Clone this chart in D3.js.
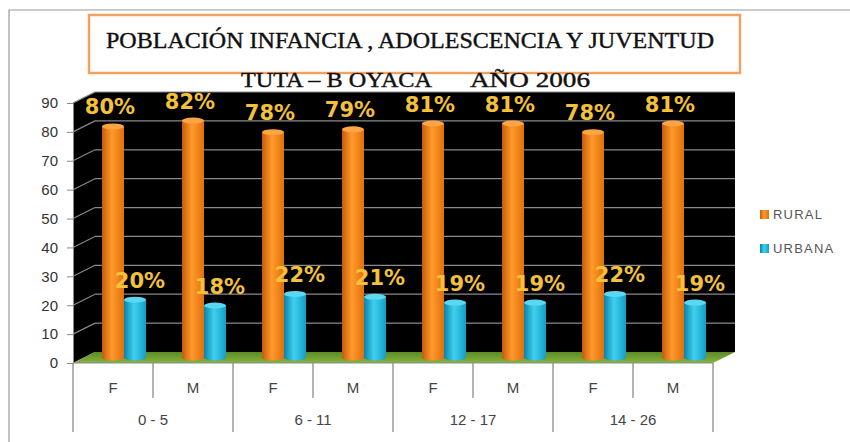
<!DOCTYPE html>
<html>
<head>
<meta charset="utf-8">
<script src="https://cdn.jsdelivr.net/npm/d3@7"></script>
<style>
  body { margin: 0; background: #fff; }
  svg { display: block; }
</style>
</head>
<body>
<svg id="chart" width="850" height="442"></svg>
<script>
// data
const groups = ["0 - 5", "6 - 11", "12 - 17", "14 - 26"];
const sexes = ["F", "M"];
const rural = [80, 82, 78, 79, 81, 81, 78, 81];
const urbana = [20, 18, 22, 21, 19, 19, 22, 19];
const yTicks = [0, 10, 20, 30, 40, 50, 60, 70, 80, 90];
const seriesNames = ["RURAL", "URBANA"];

const svg = d3.select("#chart");
const defs = svg.append("defs");

// outer frame
svg.append("path")
    .attr("d", "M9,445 L9,10 L852,10")
    .attr("fill", "none")
    .attr("stroke", "#9a9a9a")
    .attr("stroke-width", 1.2);

// title box
svg.append("rect")
    .attr("x", 89).attr("y", 15)
    .attr("width", 651).attr("height", 58)
    .attr("fill", "#fff")
    .attr("stroke", "#f0a262")
    .attr("stroke-width", 2.5);

const titleFont = "Liberation Serif, serif";
svg.append("text")
    .attr("x", 106).attr("y", 48)
    .attr("font-family", titleFont)
    .attr("font-size", 23)
    .attr("fill", "#111").attr("stroke", "#111").attr("stroke-width", 0.4)
    .attr("textLength", 608)
    .attr("lengthAdjust", "spacingAndGlyphs")
    .text("POBLACIÓN INFANCIA , ADOLESCENCIA Y JUVENTUD");

svg.append("text")
    .attr("x", 241).attr("y", 87)
    .attr("font-family", titleFont)
    .attr("font-size", 20)
    .attr("fill", "#111").attr("stroke", "#111").attr("stroke-width", 0.4)
    .attr("textLength", 191)
    .attr("lengthAdjust", "spacingAndGlyphs")
    .text("TUTA – B OYACA");

svg.append("text")
    .attr("x", 470).attr("y", 87)
    .attr("font-family", titleFont)
    .attr("font-size", 20)
    .attr("fill", "#111").attr("stroke", "#111").attr("stroke-width", 0.4)
    .attr("textLength", 120)
    .attr("lengthAdjust", "spacingAndGlyphs")
    .text("AÑO 2006");

// scales
const x0 = 73, x1 = 713;
const depthX = 22, depthY = -11;   // 3d offset of the back wall

const cats = [];
groups.forEach(g => sexes.forEach(s => cats.push(g + "|" + s)));

const x = d3.scaleBand().domain(cats).range([x0, x1]);
const xg = d3.scaleBand().domain(groups).range([x0, x1]);
const y = d3.scaleLinear().domain([0, 90]).range([363, 103]);

// walls
const wall = svg.append("g");
wall.append("path")
    .attr("d", `M${x0},${y(0)} L${x0},${y(90)} L${x0 + depthX},${y(90) + depthY} L${x1 + depthX},${y(90) + depthY} L${x1 + depthX},${y(0) + depthY} L${x0 + depthX},${y(0) + depthY} Z`)
    .attr("fill", "#000");

// gridlines on back wall and side wall
yTicks.filter(v => v > 0).forEach(v => {
    wall.append("line")
        .attr("x1", x0 + depthX).attr("x2", x1 + depthX)
        .attr("y1", y(v) + depthY).attr("y2", y(v) + depthY)
        .attr("stroke", "#8a8a8a").attr("stroke-width", 1.2);
    wall.append("line")
        .attr("x1", x0).attr("x2", x0 + depthX)
        .attr("y1", y(v)).attr("y2", y(v) + depthY)
        .attr("stroke", "#8a8a8a").attr("stroke-width", 1.2);
});

// floor
const floorGrad = defs.append("linearGradient")
    .attr("id", "floorGrad").attr("x1", 0).attr("y1", 0).attr("x2", 0).attr("y2", 1);
floorGrad.append("stop").attr("offset", "0%").attr("stop-color", "#5d8a25");
floorGrad.append("stop").attr("offset", "100%").attr("stop-color", "#86b443");

wall.append("path")
    .attr("d", `M${x0},${y(0)} L${x1},${y(0)} L${x1 + depthX},${y(0) + depthY} L${x0 + depthX},${y(0) + depthY} Z`)
    .attr("fill", "url(#floorGrad)");

// cylinder gradients
function cylGrad(id, dark, mid, light) {
    const g = defs.append("linearGradient").attr("id", id)
        .attr("x1", 0).attr("x2", 1).attr("y1", 0).attr("y2", 0);
    g.append("stop").attr("offset", "0%").attr("stop-color", dark);
    g.append("stop").attr("offset", "45%").attr("stop-color", light);
    g.append("stop").attr("offset", "100%").attr("stop-color", mid);
}
cylGrad("gRural", "#c85a06", "#e2700c", "#ff9a2c");
cylGrad("gUrbana", "#0a82a8", "#139fc6", "#3fd0ee");

const series = [
    { name: "RURAL", values: rural, fill: "url(#gRural)", top: "#ffa544", off: 0, labelDx: -3 },
    { name: "URBANA", values: urbana, fill: "url(#gUrbana)", top: "#5ad8f2", off: 1, labelDx: 5 }
];

const barW = 22;
const midX = depthX / 2, midY = depthY / 2;
const bars = svg.append("g");

series.forEach(s => {
    cats.forEach((c, i) => {
        const v = s.values[i];
        const cx = x(c) + x.bandwidth() / 2 + midX;
        const left = cx - barW + s.off * barW;
        const top = y(v) + midY;
        const bottom = y(0) + midY;
        const rx = barW / 2, ry = 3;
        bars.append("ellipse")
            .attr("cx", left + rx).attr("cy", bottom)
            .attr("rx", rx).attr("ry", ry)
            .attr("fill", s.fill);
        bars.append("rect")
            .attr("x", left).attr("y", top)
            .attr("width", barW).attr("height", bottom - top)
            .attr("fill", s.fill);
        bars.append("ellipse")
            .attr("cx", left + rx).attr("cy", top)
            .attr("rx", rx).attr("ry", ry)
            .attr("fill", s.top);

        bars.append("text")
            .attr("x", left + rx + s.labelDx)
            .attr("y", top - 12)
            .attr("text-anchor", "middle")
            .attr("font-family", "DejaVu Sans, Verdana, sans-serif")
            .attr("font-weight", "bold")
            .attr("font-size", 21)
            .attr("fill", "#f4c13a")
            .text(v + "%");
    });
});

// y axis
const yAxis = svg.append("g")
    .attr("transform", `translate(${x0},0)`)
    .call(d3.axisLeft(y).tickValues(yTicks).tickSize(6).tickPadding(9));
yAxis.select(".domain").attr("stroke", "#8a8a8a");
yAxis.selectAll(".tick line").attr("stroke", "#8a8a8a");
yAxis.selectAll("text")
    .attr("font-family", "Liberation Sans, Arial, sans-serif")
    .attr("font-size", 15)
    .attr("fill", "#333");

// x axis as table
const xa = svg.append("g");
xa.append("line")
    .attr("x1", x0).attr("x2", x1)
    .attr("y1", y(0)).attr("y2", y(0))
    .attr("stroke", "#8a8a8a");
xa.append("line")
    .attr("x1", x0).attr("x2", x0)
    .attr("y1", y(0)).attr("y2", 432)
    .attr("stroke", "#8a8a8a").attr("stroke-width", 1.3);
groups.forEach(g => {
    xa.append("line")
        .attr("x1", xg(g) + xg.bandwidth()).attr("x2", xg(g) + xg.bandwidth())
        .attr("y1", y(0)).attr("y2", 432)
        .attr("stroke", "#8a8a8a").attr("stroke-width", 1.3);
    xa.append("text")
        .attr("x", xg(g) + xg.bandwidth() / 2).attr("y", 425)
        .attr("text-anchor", "middle")
        .attr("font-family", "Liberation Sans, Arial, sans-serif")
        .attr("font-size", 15)
        .attr("fill", "#444")
        .text(g);
});
cats.forEach((c, i) => {
    if (i % 2 === 0) {
        xa.append("line")
            .attr("x1", x(c) + x.bandwidth()).attr("x2", x(c) + x.bandwidth())
            .attr("y1", y(0)).attr("y2", 398)
            .attr("stroke", "#8a8a8a").attr("stroke-width", 1.3);
    }
    xa.append("text")
        .attr("x", x(c) + x.bandwidth() / 2).attr("y", 393)
        .attr("text-anchor", "middle")
        .attr("font-family", "Liberation Sans, Arial, sans-serif")
        .attr("font-size", 15)
        .attr("fill", "#444")
        .text(c.split("|")[1]);
});

// legend
const legend = svg.append("g");
const legendColors = ["url(#gRural)", "url(#gUrbana)"];
seriesNames.forEach((n, i) => {
    const ly = 210 + i * 34;
    legend.append("rect")
        .attr("x", 760).attr("y", ly)
        .attr("width", 9).attr("height", 9)
        .attr("fill", legendColors[i]);
    legend.append("text")
        .attr("x", 773).attr("y", ly + 9)
        .attr("font-family", "Liberation Sans, Arial, sans-serif")
        .attr("font-size", 13)
        .attr("letter-spacing", 1.2)
        .attr("fill", "#555")
        .text(n);
});
</script>
</body>
</html>
